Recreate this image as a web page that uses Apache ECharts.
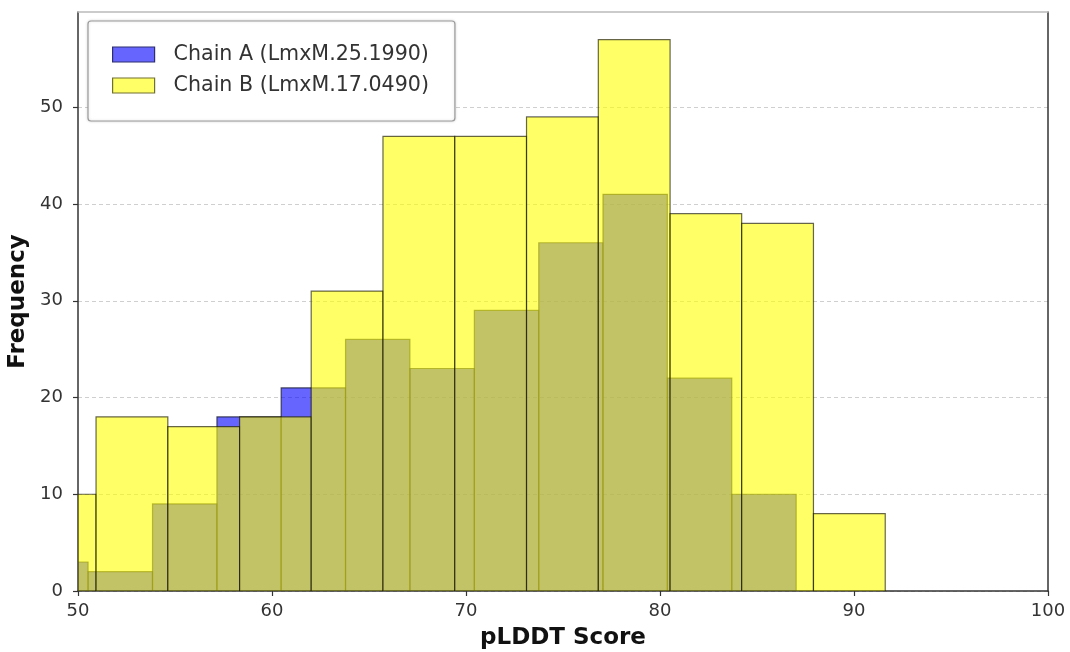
<!DOCTYPE html>
<html>
<head>
<meta charset="utf-8">
<script src="https://cdn.jsdelivr.net/npm/echarts@6/dist/echarts.min.js"></script>
<style>
html,body{margin:0;padding:0;background:#fff;}
#c{width:1070px;height:652px;}
</style>
</head>
<body>
<div id="c"></div>
<script>
// ---- data ----
const seriesNames = ['Chain A (LmxM.25.1990)', 'Chain B (LmxM.17.0490)'];
const edgesA = [47.20, 50.52, 53.84, 57.16, 60.47, 63.79, 67.11, 70.43, 73.75, 77.06, 80.38, 83.70, 87.02];
const countsA = [3, 2, 9, 18, 21, 26, 23, 29, 36, 41, 22, 10];
const edgesB = [47.23, 50.93, 54.63, 58.33, 62.02, 65.72, 69.42, 73.12, 76.82, 80.52, 84.21, 87.91, 91.61];
const countsB = [10, 18, 17, 18, 31, 47, 47, 49, 57, 39, 38, 8];
const xTicks = [50, 60, 70, 80, 90, 100];
const yTicks = [0, 10, 20, 30, 40, 50];
const xRange = [50, 100];
const yRange = [0, 59.85];

const FONT = 'DejaVu Sans';

function toBins(edges, counts) {
  return counts.map((c, i) => [edges[i], edges[i + 1], c]);
}

function histRender(fill) {
  return function (params, api) {
    const x0 = Math.max(api.value(0), xRange[0]);
    const x1 = Math.min(api.value(1), xRange[1]);
    const v = api.value(2);
    const p0 = api.coord([x0, 0]);
    const p1 = api.coord([x1, v]);
    return {
      type: 'rect',
      shape: { x: p0[0], y: p1[1], width: p1[0] - p0[0], height: p0[1] - p1[1] },
      style: { fill: fill, stroke: '#000', lineWidth: 1.2, opacity: 0.6 }
    };
  };
}

const chart = echarts.init(document.getElementById('c'), null, { renderer: 'canvas' });

const option = {
  animation: false,
  backgroundColor: '#fff',
  textStyle: { fontFamily: FONT },
  grid: { left: 78, right: 22, top: 12, bottom: 61, show: false, containLabel: false, outerBoundsMode: 'none' },
  legend: {
    orient: 'vertical',
    left: 88,
    top: 21,
    padding: [23, 26, 25, 24],
    itemWidth: 42,
    itemHeight: 15,
    itemGap: 10,
    icon: 'rect',
    backgroundColor: '#fff',
    borderColor: '#9a9a9a',
    borderWidth: 1.2,
    borderRadius: 3,
    shadowColor: 'rgba(0,0,0,0.15)',
    shadowBlur: 3,
    textStyle: { fontFamily: FONT, fontSize: 20.6, color: '#333', padding: [0, 0, 0, 14] },
    data: [
      { name: seriesNames[0], itemStyle: { color: '#6666ff', borderColor: '#2d2d70', borderWidth: 1.2, opacity: 1 } },
      { name: seriesNames[1], itemStyle: { color: '#ffff66', borderColor: '#707030', borderWidth: 1.2, opacity: 1 } }
    ]
  },
  xAxis: [{
    type: 'value',
    min: xRange[0],
    max: xRange[1],
    interval: 10,
    name: 'pLDDT Score',
    nameLocation: 'middle',
    nameGap: 36,
    nameTextStyle: { fontFamily: FONT, fontSize: 23, fontWeight: 'bold', color: '#111' },
    axisLine: { show: true, onZero: false, lineStyle: { color: '#333', width: 1.5 } },
    axisTick: { show: true, length: 5, lineStyle: { color: '#333', width: 1.2 } },
    axisLabel: { fontFamily: FONT, fontSize: 18, color: '#333', margin: 11,
      customValues: xTicks, formatter: v => String(v) },
    splitLine: { show: false }
  }, {
    type: 'value',
    position: 'top',
    min: xRange[0],
    max: xRange[1],
    axisLine: { show: true, onZero: false, lineStyle: { color: '#bbb', width: 1.5 } },
    axisTick: { show: false },
    axisLabel: { show: false },
    splitLine: { show: false }
  }],
  yAxis: [{
    type: 'value',
    min: yRange[0],
    max: yRange[1],
    name: 'Frequency',
    nameLocation: 'middle',
    nameGap: 48,
    nameTextStyle: { fontFamily: FONT, fontSize: 23, fontWeight: 'bold', color: '#111' },
    axisLine: { show: true, onZero: false, lineStyle: { color: '#333', width: 1.5 } },
    axisTick: { show: true, length: 5, lineStyle: { color: '#333', width: 1.2 }, customValues: yTicks },
    axisLabel: { fontFamily: FONT, fontSize: 18, color: '#333', margin: 15,
      customValues: yTicks, formatter: v => String(v) },
    splitLine: { show: true, lineStyle: { color: '#cfcfcf', width: 1, type: [4, 3] } }
  }, {
    type: 'value',
    position: 'right',
    min: yRange[0],
    max: yRange[1],
    axisLine: { show: true, onZero: false, lineStyle: { color: '#333', width: 1.5 } },
    axisTick: { show: false },
    axisLabel: { show: false },
    splitLine: { show: false }
  }],
  series: [
    {
      name: seriesNames[0],
      type: 'custom',
      xAxisIndex: 0, yAxisIndex: 0,
      clip: true,
      itemStyle: { color: '#0000ff', opacity: 0.6, borderColor: '#000' },
      encode: { x: [0, 1], y: 2 },
      data: toBins(edgesA, countsA),
      renderItem: histRender('#0000ff'),
      z: 2
    },
    {
      name: seriesNames[1],
      type: 'custom',
      xAxisIndex: 0, yAxisIndex: 0,
      clip: true,
      itemStyle: { color: '#ffff00', opacity: 0.6, borderColor: '#000' },
      encode: { x: [0, 1], y: 2 },
      data: toBins(edgesB, countsB),
      renderItem: histRender('#ffff00'),
      z: 3
    }
  ]
};
chart.setOption(option);
</script>
</body>
</html>
